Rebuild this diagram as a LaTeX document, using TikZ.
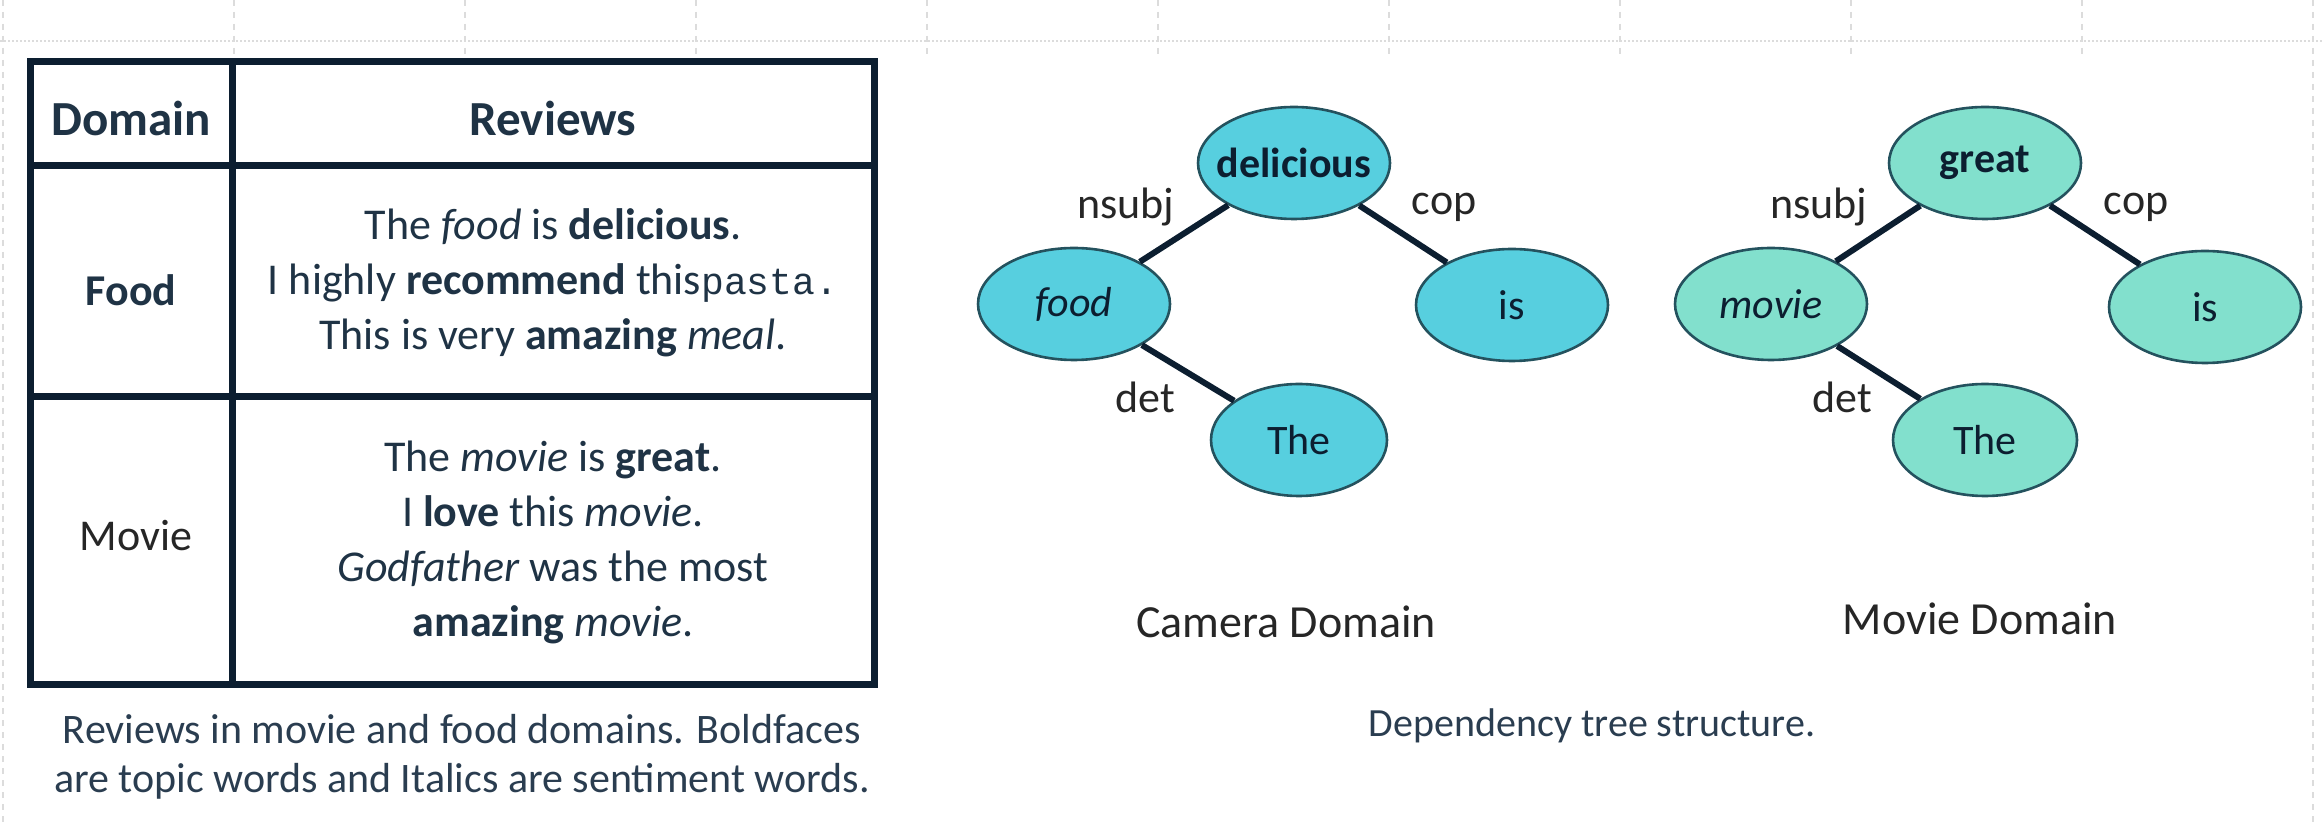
\documentclass[tikz,border=0pt]{standalone}
\usepackage{fontspec}
\setmainfont{Carlito}
\setmonofont{Liberation Mono}
\usetikzlibrary{shapes.geometric}
\definecolor{navy}{HTML}{0C1E30}
\definecolor{inkblue}{HTML}{1F3345}
\definecolor{capblue}{HTML}{2A3D50}
\definecolor{camfill}{HTML}{57CFDF}
\definecolor{movfill}{HTML}{82E0CD}
\definecolor{rim}{HTML}{24525E}
\definecolor{sheetgrey}{HTML}{DCDCDC}

\begin{document}
\begin{tikzpicture}[
			x=0.5pt, y=-0.5pt,
			word/.style={ellipse,draw=rim,line width=1.3pt,inner sep=0pt,inner xsep=-12pt,
			minimum width=96pt,minimum height=56pt,text=navy,
			font=\fontsize{21}{25}\selectfont},
			cam/.style={word,fill=camfill},
			mov/.style={word,fill=movfill},
			dep/.style={draw=navy,line width=3pt},
			rel/.style={text=black!85,font=\fontsize{22}{26}\selectfont},
			cell/.style={text=inkblue,align=center,font=\fontsize{22}{27.5}\selectfont},
			head/.style={cell,font=\fontsize{24.5}{28}\selectfont\bfseries},
			rule/.style={draw=navy,line width=3.5pt},
			caption/.style={text=capblue,align=center,font=\fontsize{21}{24.5}\selectfont},
			title/.style={text=black!85,font=\fontsize{23}{27}\selectfont}
			]
			\useasboundingbox (0,0) rectangle (2322,822);
			% faint sheet grid
			\draw[sheetgrey,densely dotted,line width=1pt] (0,41) -- (2322,41);
			\foreach \gx in {3,234,...,2313}
				\draw[sheetgrey,dashed,line width=0.8pt] (\gx,0) -- (\gx,55);
			\draw[sheetgrey,dashed,line width=0.8pt] (3,0) -- (3,822);
			\draw[sheetgrey,dashed,line width=0.8pt] (2313,0) -- (2313,822);
			% review table
			\draw[rule] (30,62) rectangle (874,684);
			\draw[rule] (232,62) -- (232,684);
			\draw[rule] (30,166) -- (874,166);
			\draw[rule] (30,397) -- (874,397);
			\node[head] (hd) at (131,118) {Domain};
			\node[head] (hr) at (553,118) {Reviews};
			\node[cell] (fd) at (131,290) {\bfseries Food};
			\node[cell] (fr) at (553,283) {The \textit{food} is \textbf{delicious}.\\
				I highly \textbf{recommend} this\texttt{\fontsize{19}{27.5}\selectfont pasta.}\\
				This is very \textbf{amazing} \textit{meal}.};
			\node[cell,text=black!85] (mv) at (136,536) {Movie};
			\node[cell] (mr) at (553,542) {The \textit{movie} is \textbf{great}.\\
				I \textbf{love} this \textit{movie}.\\
				\textit{Godfather} was the most\\
				\textbf{amazing} \textit{movie}.};
			\node[caption] (tc) at (462,757) {Reviews in movie and food domains. Boldfaces\\
				are topic words and Italics are sentiment words.};
			% camera domain tree
			\node[cam] (c0) at (1294,163) {\bfseries delicious};
			\node[cam] (c1) at (1074,304) {\itshape food};
			\node[cam] (c2) at (1512,305) {is};
			\node[cam,minimum width=88pt] (c3) at (1299,440) {The};
			\draw[dep] (c0) -- (c1);
			\draw[dep] (c0) -- (c2);
			\draw[dep] (c1) -- (c3);
			\node[rel] (c01) at (1126,207) {nsubj};
			\node[rel] (c02) at (1444,207) {cop};
			\node[rel] (c13) at (1145,397) {det};
			\node[title] (ct) at (1286,622) {Camera Domain};
			% movie domain tree
			\node[mov] (m0) at (1985,163) {\bfseries great};
			\node[mov] (m1) at (1771,304) {\itshape movie};
			\node[mov] (m2) at (2205,307) {is};
			\node[mov,minimum width=92pt] (m3) at (1985,440) {The};
			\draw[dep] (m0) -- (m1);
			\draw[dep] (m0) -- (m2);
			\draw[dep] (m1) -- (m3);
			\node[rel] (m01) at (1819,207) {nsubj};
			\node[rel] (m02) at (2136,207) {cop};
			\node[rel] (m13) at (1842,397) {det};
			\node[title] (mt) at (1980,619) {Movie Domain};
			\node[caption,font=\fontsize{20}{24}\selectfont] (dc) at (1592,726) {Dependency tree structure.};
		\end{tikzpicture}
\end{document}
